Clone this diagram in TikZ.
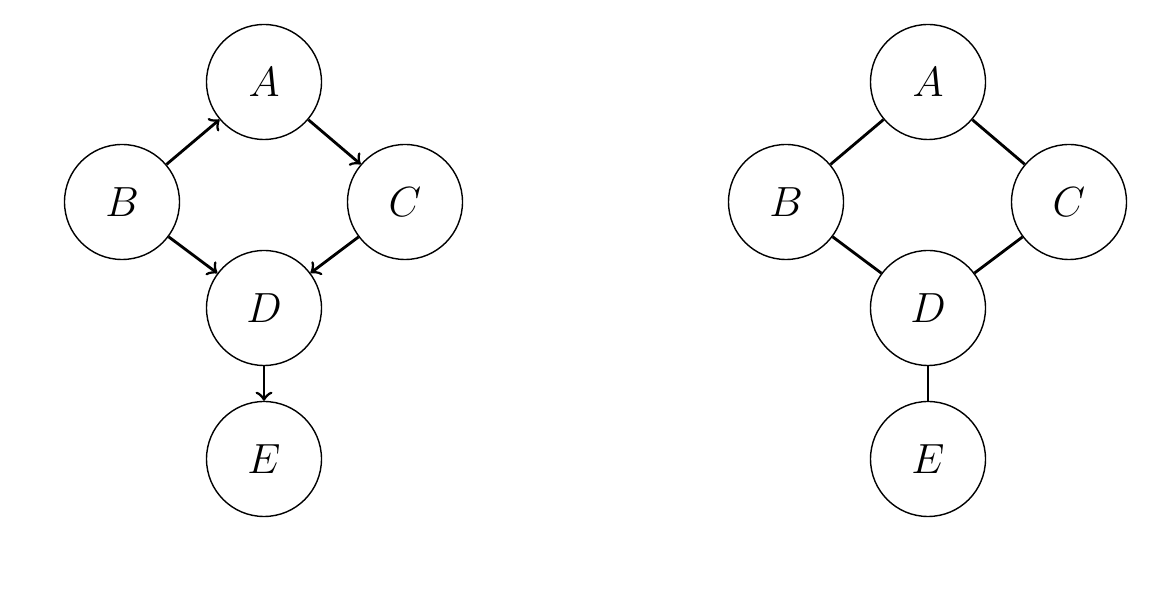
\documentclass[tikz,border=0pt]{standalone}
\usepackage{tikz}
\usepackage{amsmath}
\usetikzlibrary{arrows, positioning}

\begin{document}
\begin{tikzpicture}[
    vertex/.style={circle, draw, minimum size=1.15cm, inner sep=0pt, font=\fontsize{13}{15}\selectfont},
    edge/.style={thick},
    arc/.style={thick, ->}
]
    \useasboundingbox (0, 0) rectangle (11.69, 5.89);

    % directed graph
    \node[vertex] (A1) at (2.64, 5.07) {$A$};
    \node[vertex] (B1) at (1.22, 3.87) {$B$};
    \node[vertex] (C1) at (4.05, 3.87) {$C$};
    \node[vertex] (D1) at (2.64, 2.81) {$D$};
    \node[vertex] (E1) at (2.64, 1.30) {$E$};

    \draw[arc] (B1) -- (A1);
    \draw[arc] (A1) -- (C1);
    \draw[arc] (B1) -- (D1);
    \draw[arc] (C1) -- (D1);
    \draw[arc] (D1) -- (E1);

    % undirected graph
    \node[vertex] (A2) at (9.28, 5.07) {$A$};
    \node[vertex] (B2) at (7.86, 3.87) {$B$};
    \node[vertex] (C2) at (10.69, 3.87) {$C$};
    \node[vertex] (D2) at (9.28, 2.81) {$D$};
    \node[vertex] (E2) at (9.28, 1.30) {$E$};

    \draw[edge] (B2) -- (A2);
    \draw[edge] (A2) -- (C2);
    \draw[edge] (B2) -- (D2);
    \draw[edge] (C2) -- (D2);
    \draw[edge] (D2) -- (E2);
\end{tikzpicture}
\end{document}
